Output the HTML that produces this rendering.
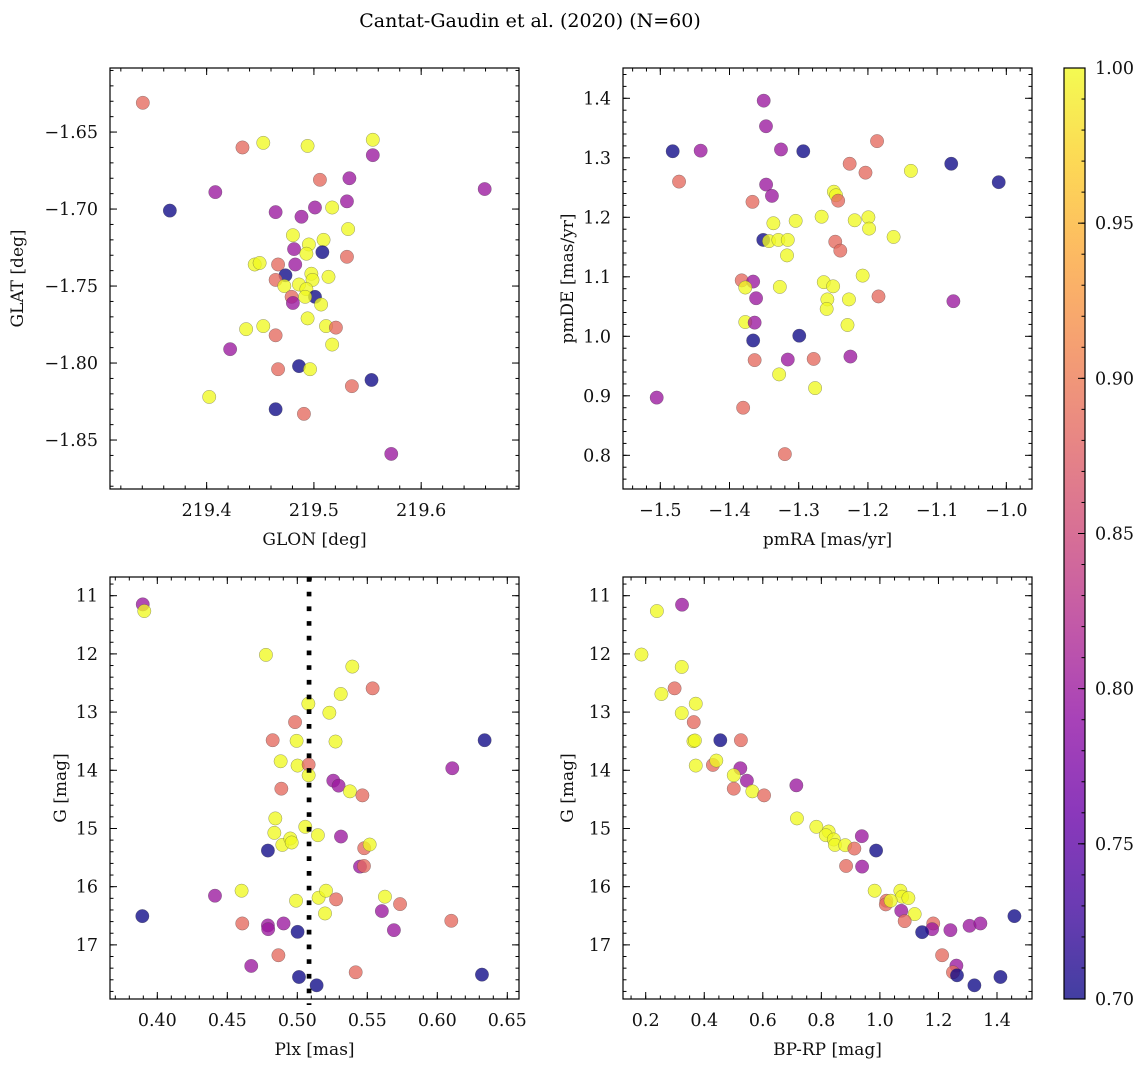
<!DOCTYPE html>
<html>
<head>
<meta charset="utf-8">
<style>
  html,body{margin:0;padding:0;background:#fff;}
  svg{display:block;font-family:"DejaVu Serif","Liberation Serif",serif;}
</style>
</head>
<body>
<svg id="fig" width="1148" height="1067" viewBox="0 0 1148 1067" xmlns="http://www.w3.org/2000/svg">
  <defs>
    <linearGradient id="plasmaGrad" x1="0" y1="1" x2="0" y2="0">
      <stop offset="0" stop-color="#0d0887"/>
      <stop offset="0.1" stop-color="#41049d"/>
      <stop offset="0.2" stop-color="#6a00a8"/>
      <stop offset="0.3" stop-color="#8f0da4"/>
      <stop offset="0.4" stop-color="#b12a90"/>
      <stop offset="0.5" stop-color="#cc4778"/>
      <stop offset="0.6" stop-color="#e16462"/>
      <stop offset="0.7" stop-color="#f2844b"/>
      <stop offset="0.8" stop-color="#fca636"/>
      <stop offset="0.9" stop-color="#fcce25"/>
      <stop offset="1" stop-color="#f0f921"/>
    </linearGradient>
  </defs>
  <text x="530" y="27" font-size="19" text-anchor="middle" fill="#000">Cantat-Gaudin et al. (2020) (N=60)</text>
  <g id="panels"></g>
  <g id="cbar"></g>
</svg>
<script>
// ---------- Data: top-left (GLON vs GLAT) ----------
const tlGlon = [219.3405,219.4334,219.4528,219.4941,219.5549,219.5549,219.5056,219.5331,219.4081,219.6592,219.3657,219.4643,219.4884,219.5010,219.5170,219.5308,219.5319,219.4804,219.4953,219.5090,219.4815,219.4930,219.5079,219.5308,219.4448,219.4494,219.4666,219.4826,219.4735,219.4643,219.4976,219.4987,219.5136,219.4724,219.4861,219.4930,219.5010,219.4792,219.4804,219.4918,219.5067,219.4941,219.4368,219.4528,219.4643,219.5113,219.5205,219.5170,219.4219,219.4861,219.4964,219.4666,219.5537,219.5354,219.4024,219.4643,219.4907,219.5721];
const tlGlat = [-1.631,-1.660,-1.657,-1.659,-1.655,-1.665,-1.681,-1.680,-1.689,-1.687,-1.701,-1.702,-1.705,-1.699,-1.699,-1.695,-1.713,-1.717,-1.723,-1.720,-1.726,-1.729,-1.728,-1.731,-1.736,-1.735,-1.736,-1.736,-1.743,-1.746,-1.742,-1.746,-1.744,-1.750,-1.749,-1.752,-1.757,-1.757,-1.761,-1.757,-1.762,-1.771,-1.778,-1.776,-1.782,-1.776,-1.777,-1.788,-1.791,-1.802,-1.804,-1.804,-1.811,-1.815,-1.822,-1.830,-1.833,-1.859];
const tlProb = [0.885,0.885,1,1,1,0.80,0.885,0.80,0.80,0.80,0.70,0.80,0.80,0.80,1,0.80,1,1,1,1,0.80,1,0.70,0.885,1,1,0.885,0.80,0.70,0.885,1,1,1,1,1,1,0.70,0.885,0.80,1,1,1,1,1,0.885,1,0.885,1,0.80,0.70,1,0.885,0.70,0.885,1,0.70,0.885,0.80];
const tlXTicks = [219.4,219.5,219.6];
const tlYTicks = [-1.65,-1.70,-1.75,-1.80,-1.85];

// ---------- Data: top-right (pmRA vs pmDE) ----------
const trPmra = [-1.3506,-1.3473,-1.4821,-1.4417,-1.3256,-1.2934,-1.1868,-1.2264,-1.2035,-1.1379,-1.0796,-1.0110,-1.4729,-1.3471,-1.3387,-1.3668,-1.2492,-1.2461,-1.2430,-1.3366,-1.3044,-1.2669,-1.2191,-1.1993,-1.1983,-1.1629,-1.3512,-1.3429,-1.3294,-1.3158,-1.3169,-1.2472,-1.2399,-1.3824,-1.3658,-1.3772,-1.3273,-1.3616,-1.2638,-1.2503,-1.2076,-1.2586,-1.2596,-1.2274,-1.1847,-1.0765,-1.3772,-1.3637,-1.2295,-1.3658,-1.2992,-1.3637,-1.3158,-1.2784,-1.2253,-1.3283,-1.2763,-1.5052,-1.3803,-1.3200];
const trPmde = [1.396,1.353,1.311,1.312,1.314,1.311,1.328,1.290,1.275,1.278,1.290,1.259,1.260,1.255,1.236,1.226,1.243,1.237,1.228,1.190,1.194,1.201,1.195,1.200,1.181,1.167,1.162,1.160,1.162,1.162,1.136,1.159,1.144,1.094,1.092,1.082,1.083,1.064,1.091,1.084,1.102,1.062,1.046,1.062,1.067,1.059,1.024,1.023,1.019,0.993,1.001,0.960,0.961,0.962,0.966,0.936,0.913,0.897,0.880,0.802];
const trProb = [0.80,0.80,0.70,0.80,0.80,0.70,0.885,0.885,0.885,1,0.70,0.70,0.885,0.80,0.80,0.885,1,1,0.885,1,1,1,1,1,1,1,0.70,1,1,1,1,0.885,0.885,0.885,0.80,1,1,0.80,1,1,1,1,1,1,0.885,0.80,1,0.80,1,0.70,0.70,0.885,0.80,0.885,0.80,1,1,0.80,0.885,0.885];
const trXTicks = [-1.5,-1.4,-1.3,-1.2,-1.1,-1.0];
const trYTicks = [1.4,1.3,1.2,1.1,1.0,0.9,0.8];

// ---------- Data: bottom-left (Plx vs G) ----------
const blPlx = [0.3896,0.3907,0.4776,0.5393,0.5538,0.5310,0.5079,0.5229,0.4984,0.4824,0.4995,0.5273,0.6338,0.4881,0.5002,0.5081,0.5081,0.6107,0.5257,0.5295,0.5376,0.5465,0.4886,0.4843,0.4836,0.5057,0.5147,0.5312,0.4893,0.4950,0.4960,0.4790,0.5478,0.5517,0.5448,0.5476,0.4602,0.4412,0.4991,0.5152,0.5205,0.5277,0.5626,0.5734,0.5198,0.5604,0.3893,0.4607,0.4790,0.4792,0.4902,0.5002,0.5690,0.6100,0.4865,0.4671,0.5012,0.5138,0.5417,0.6319];
const blG = [11.149,11.264,12.017,12.218,12.592,12.689,12.856,13.011,13.172,13.483,13.494,13.506,13.483,13.845,13.919,13.902,14.086,13.965,14.178,14.264,14.362,14.431,14.316,14.827,15.075,14.971,15.115,15.138,15.282,15.172,15.241,15.379,15.339,15.276,15.655,15.644,16.069,16.155,16.241,16.190,16.069,16.218,16.172,16.299,16.460,16.419,16.506,16.632,16.666,16.730,16.632,16.776,16.747,16.586,17.178,17.362,17.552,17.695,17.471,17.511];
const blProb = [0.80,1,1,1,0.885,1,1,1,0.885,0.885,1,1,0.70,1,1,0.885,1,0.80,0.80,0.80,1,0.885,0.885,1,1,1,1,0.80,1,1,1,0.70,0.885,1,0.80,0.885,1,0.80,1,1,1,0.885,1,0.885,1,0.80,0.70,0.885,0.80,0.80,0.80,0.70,0.80,0.885,0.885,0.80,0.70,0.70,0.885,0.70];
const blXTicks = [0.40,0.45,0.50,0.55,0.60,0.65];
const plxRef = [0.5084];

// ---------- Data: bottom-right (BP-RP vs G) ----------
const brBprp = [0.3241,0.2382,0.1855,0.3231,0.2987,0.2538,0.3710,0.3231,0.3641,0.4549,0.5252,0.3631,0.3680,0.3710,0.4295,0.4412,0.5233,0.5457,0.5008,0.5008,0.5643,0.6043,0.7146,0.7166,0.7829,0.8249,0.8152,0.8425,0.8464,0.8815,0.9128,0.9382,0.9870,0.8845,0.9392,0.9821,1.0700,1.0758,1.0973,1.0221,1.0202,1.0368,1.0729,1.1188,1.0846,1.1822,1.1783,1.1442,1.2408,1.3062,1.3433,1.4595,1.2125,1.2613,1.2496,1.2633,1.3228,1.4117];
const brG = [11.155,11.264,12.011,12.224,12.592,12.689,12.856,13.017,13.172,13.483,13.483,13.500,13.488,13.919,13.908,13.833,13.965,14.178,14.086,14.316,14.362,14.431,14.259,14.827,14.971,15.052,15.115,15.189,15.282,15.287,15.345,15.132,15.379,15.644,15.655,16.069,16.069,16.172,16.195,16.241,16.305,16.241,16.414,16.471,16.592,16.632,16.730,16.782,16.747,16.672,16.632,16.506,17.178,17.356,17.471,17.523,17.695,17.552];
const brProb = [0.80,1,1,1,0.885,1,1,1,0.885,0.70,0.885,1,1,1,0.885,1,0.80,0.80,1,0.885,1,0.885,0.80,1,1,1,1,1,1,1,0.885,0.80,0.70,0.885,0.80,1,1,1,1,0.885,0.885,1,0.80,1,0.885,0.885,0.80,0.70,0.80,0.80,0.80,0.70,0.885,0.80,0.885,0.70,0.70,0.70];
const brXTicks = [0.2,0.4,0.6,0.8,1.0,1.2,1.4];
const gTicks = [11,12,13,14,15,16,17];

// ---------- Colorbar ----------
const cbTicks = [0.70,0.75,0.80,0.85,0.90,0.95,1.00];
const cbRange = [0.70,1.00];

const NS = "http://www.w3.org/2000/svg";
const PLASMA = [[13,8,135],[65,4,157],[106,0,168],[143,13,164],[177,42,144],[204,71,120],[225,100,98],[242,132,75],[252,166,54],[252,206,37],[240,249,33]];
function plasma(t){
  t = Math.max(0, Math.min(1, t));
  const f = t*10, i = Math.min(9, Math.floor(f)), r = f - i;
  const a = PLASMA[i], b = PLASMA[i+1];
  return 'rgb(' + [0,1,2].map(k => Math.round(a[k] + (b[k]-a[k])*r)).join(',') + ')';
}
function el(tag, attrs, parent){
  const e = document.createElementNS(NS, tag);
  for (const k in attrs) e.setAttribute(k, attrs[k]);
  parent.appendChild(e);
  return e;
}
function scale(d0, d1, r0, r1){ return v => r0 + (v - d0) / (d1 - d0) * (r1 - r0); }
function fmt(v, dec){ const s = Math.abs(v).toFixed(dec); return (v < 0 ? '\u2212' : '') + s; }

const root = document.getElementById('panels');

function panel(cfg){
  const g = el('g', {}, root);
  
  
  const L = cfg.box[0], R = cfg.box[1], T = cfg.box[2], B = cfg.box[3];
  const sx = scale(cfg.xd[0], cfg.xd[1], L, R);
  const sy = scale(cfg.yd[0], cfg.yd[1], T, B);
  const pts = el('g', {}, g);
  
  
  for (let i = 0; i < cfg.xs.length; i++){
    const c = el('circle', {cx: sx(cfg.xs[i]).toFixed(2), cy: sy(cfg.ys[i]).toFixed(2), r: 6.7,
      fill: plasma((cfg.cs[i] - cbRange[0]) / (cbRange[1] - cbRange[0])), 'fill-opacity': 0.78,
      stroke: 'rgba(70,70,70,0.55)', 'stroke-width': 0.5}, pts);
    
    
  }
  if (cfg.vline){
    for (const v of cfg.vline){
      const ln = el('line', {x1: sx(v), x2: sx(v), y1: T, y2: B + 6, stroke: '#000', 'stroke-width': 4.7, 'stroke-dasharray': '4.7 10'}, g);
      
      
    }
  }
  const fr = el('rect', {x: L, y: T, width: R - L, height: B - T, fill: 'none', stroke: '#000', 'stroke-width': 1.2}, g);
  
  
  const tk = el('g', {stroke: '#000', 'stroke-width': 1}, g);
  
  
  const xmin = Math.min(cfg.xd[0], cfg.xd[1]), xmax = Math.max(cfg.xd[0], cfg.xd[1]);
  const ymin = Math.min(cfg.yd[0], cfg.yd[1]), ymax = Math.max(cfg.yd[0], cfg.yd[1]);
  for (let v = Math.ceil(xmin / cfg.xminor - 1e-6) * cfg.xminor; v <= xmax + 1e-9; v += cfg.xminor){
    const px = sx(v);
    el('line', {x1: px, x2: px, y1: B, y2: B - 3.5}, tk);
    el('line', {x1: px, x2: px, y1: T, y2: T + 3.5}, tk);
  }
  for (let v = Math.ceil(ymin / cfg.yminor - 1e-6) * cfg.yminor; v <= ymax + 1e-9; v += cfg.yminor){
    const py = sy(v);
    el('line', {x1: L, x2: L + 3.5, y1: py, y2: py}, tk);
    el('line', {x1: R, x2: R - 3.5, y1: py, y2: py}, tk);
  }
  const lab = el('g', {'font-size': 17.5, fill: '#111'}, g);
  for (const v of cfg.xt){
    const px = sx(v);
    el('line', {x1: px, x2: px, y1: B, y2: B - 7}, tk);
    el('line', {x1: px, x2: px, y1: T, y2: T + 7}, tk);
    const t = el('text', {x: px, y: B + 27, 'text-anchor': 'middle'}, lab);
    t.textContent = fmt(v, cfg.xdec);
    
    
  }
  for (const v of cfg.yt){
    const py = sy(v);
    el('line', {x1: L, x2: L + 7, y1: py, y2: py}, tk);
    el('line', {x1: R, x2: R - 7, y1: py, y2: py}, tk);
    const t = el('text', {x: L - 12, y: py + 6, 'text-anchor': 'end'}, lab);
    t.textContent = fmt(v, cfg.ydec);
    
    
  }
  const xl = el('text', {x: (L + R) / 2, y: B + 56, 'text-anchor': 'middle', 'font-size': 17, fill: '#111'}, g);
  xl.textContent = cfg.xlabel;
  
  
  const yl = el('text', {x: 0, y: 0, 'text-anchor': 'middle', 'font-size': 17, fill: '#111',
    transform: 'translate(' + cfg.ylx + ',' + ((T + B) / 2) + ') rotate(-90)'}, g);
  yl.textContent = cfg.ylabel;
  
  
}

panel({name: 'glon-glat-panel', box: [110, 519, 68, 489], xd: [219.3099, 219.6912], yd: [-1.6084, -1.8818],
  xs: tlGlon, ys: tlGlat, cs: tlProb, xt: tlXTicks, yt: tlYTicks, xminor: 0.02, yminor: 0.01, xdec: 1, ydec: 2,
  xlabel: 'GLON [deg]', ylabel: 'GLAT [deg]', ylx: 23});
panel({name: 'pm-panel', box: [623, 1032, 68, 489], xd: [-1.5539, -0.9629], yd: [1.4509, 0.7434],
  xs: trPmra, ys: trPmde, cs: trProb, xt: trXTicks, yt: trYTicks, xminor: 0.02, yminor: 0.02, xdec: 1, ydec: 1,
  xlabel: 'pmRA [mas/yr]', ylabel: 'pmDE [mas/yr]', ylx: 573});
panel({name: 'plx-g-panel', box: [110, 519, 577, 999], xd: [0.36621, 0.65836], yd: [10.6787, 17.930],
  xs: blPlx, ys: blG, cs: blProb, xt: blXTicks, yt: gTicks, xminor: 0.01, yminor: 0.2, xdec: 2, ydec: 0,
  xlabel: 'Plx [mas]', ylabel: 'G [mag]', ylx: 66, vline: plxRef});
panel({name: 'cmd-panel', box: [623, 1032, 577, 999], xd: [0.12246, 1.51955], yd: [10.6787, 17.930],
  xs: brBprp, ys: brG, cs: brProb, xt: brXTicks, yt: gTicks, xminor: 0.05, yminor: 0.2, xdec: 1, ydec: 0,
  xlabel: 'BP-RP [mag]', ylabel: 'G [mag]', ylx: 573});

(function(){
  const cb = document.getElementById('cbar');
  const L = 1064, R = 1085, T = 68, B = 999;
  const sy = scale(cbRange[0], cbRange[1], B, T);
  const r = el('rect', {x: L, y: T, width: R - L, height: B - T, fill: 'url(#plasmaGrad)', 'fill-opacity': 0.78}, cb);
  
  
  el('rect', {x: L, y: T, width: R - L, height: B - T, fill: 'none', stroke: '#000', 'stroke-width': 1.2}, cb);
  for (let v = cbRange[0]; v <= cbRange[1] + 1e-9; v += 0.01){
    el('line', {x1: R, x2: R - 3.5, y1: sy(v), y2: sy(v), stroke: '#000', 'stroke-width': 1}, cb);
  }
  for (const v of cbTicks){
    el('line', {x1: R, x2: R - 7, y1: sy(v), y2: sy(v), stroke: '#000', 'stroke-width': 1}, cb);
    const t = el('text', {x: 1095, y: sy(v) + 6, 'font-size': 17.5, fill: '#111'}, cb);
    t.textContent = v.toFixed(2);
    
    
  }
})();
</script>
</body>
</html>
